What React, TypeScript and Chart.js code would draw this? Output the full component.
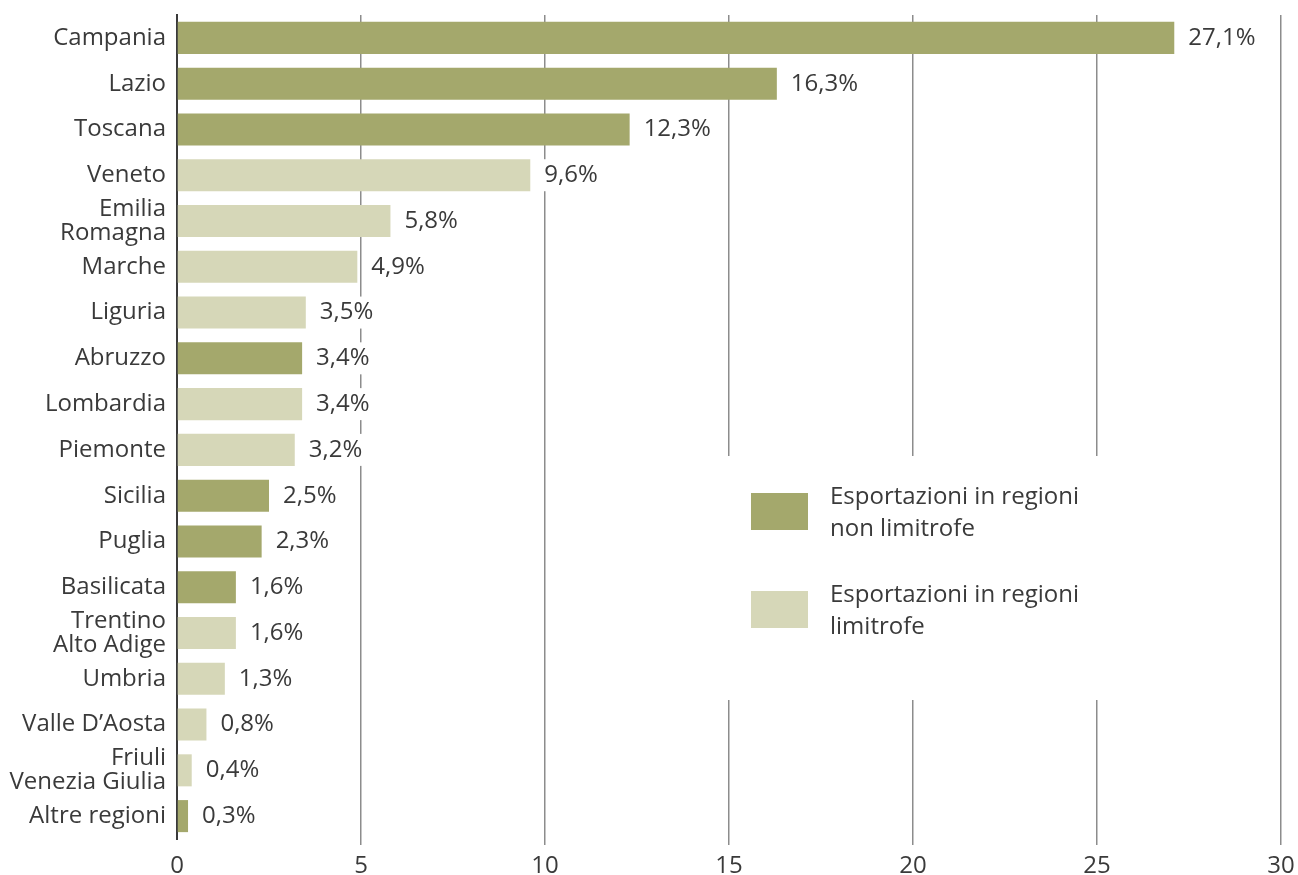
import React, { useEffect, useRef } from "react";
import { Chart, registerables } from "chart.js";

Chart.register(...registerables);

const categories: (string | string[])[] = [
  "Campania",
  "Lazio",
  "Toscana",
  "Veneto",
  ["Emilia", "Romagna"],
  "Marche",
  "Liguria",
  "Abruzzo",
  "Lombardia",
  "Piemonte",
  "Sicilia",
  "Puglia",
  "Basilicata",
  ["Trentino", "Alto Adige"],
  "Umbria",
  "Valle D’Aosta",
  ["Friuli", "Venezia Giulia"],
  "Altre regioni",
];

const nonLimitrofe: (number | null)[] = [
  27.1, 16.3, 12.3, null, null, null, null, 3.4, null, null, 2.5, 2.3, 1.6, null, null, null, null, 0.3,
];
const limitrofe: (number | null)[] = [
  null, null, null, 9.6, 5.8, 4.9, 3.5, null, 3.4, 3.2, null, null, null, 1.6, 1.3, 0.8, 0.4, null,
];

const legendLabels: string[][] = [
  ["Esportazioni in regioni", "non limitrofe"],
  ["Esportazioni in regioni", "limitrofe"],
];

const xMin = 0;
const xMax = 30;
const xStep = 5;

const DARK = "#a4a86c";
const LIGHT = "#d6d7b8";
const TEXT = "#3a3a3a";
const FONT = "'Open Sans', sans-serif";
const FS = 24;

const fmt = (v: number) => v.toFixed(1).replace(".", ",") + "%";

const valueLabels = {
  id: "valueLabels",
  afterDatasetsDraw(chart: any) {
    const ctx = chart.ctx;
    ctx.save();
    ctx.font = `${FS}px ${FONT}`;
    ctx.textBaseline = "middle";
    ctx.textAlign = "left";
    chart.data.datasets.forEach((ds: any, di: number) => {
      const meta = chart.getDatasetMeta(di);
      meta.data.forEach((bar: any, i: number) => {
        const v = ds.data[i];
        if (v === null || v === undefined) return;
        const text = fmt(v);
        const x = bar.x + 14;
        const y = bar.y;
        const w = ctx.measureText(text).width;
        ctx.fillStyle = "#ffffff";
        ctx.fillRect(x - 4, y - 16, w + 8, 32);
        ctx.fillStyle = TEXT;
        ctx.fillText(text, x, y);
      });
    });
    ctx.restore();
  },
};

const customLegend = {
  id: "customLegend",
  afterDatasetsDraw(chart: any) {
    const ctx = chart.ctx;
    ctx.save();
    ctx.fillStyle = "#ffffff";
    ctx.fillRect(700, 456, 420, 244);
    const colors = [DARK, LIGHT];
    const tops = [493, 591];
    legendLabels.forEach((lines, i) => {
      ctx.fillStyle = colors[i];
      ctx.fillRect(751, tops[i], 57, 37);
      ctx.fillStyle = TEXT;
      ctx.font = `${FS}px ${FONT}`;
      ctx.textBaseline = "middle";
      ctx.textAlign = "left";
      lines.forEach((ln, j) => {
        ctx.fillText(ln, 830, tops[i] + 4 + j * 32);
      });
    });
    ctx.restore();
  },
};

export default function App() {
  const ref = useRef<HTMLCanvasElement | null>(null);

  useEffect(() => {
    if (!ref.current) return;
    const chart = new Chart(ref.current, {
      type: "bar",
      data: {
        labels: categories as any,
        datasets: [
          {
            label: legendLabels[0].join(" "),
            data: nonLimitrofe as any,
            backgroundColor: DARK,
            barPercentage: 0.7,
            categoryPercentage: 1,
          },
          {
            label: legendLabels[1].join(" "),
            data: limitrofe as any,
            backgroundColor: LIGHT,
            barPercentage: 0.7,
            categoryPercentage: 1,
          },
        ],
      },
      options: {
        indexAxis: "y",
        responsive: false,
        animation: false,
        layout: { padding: { top: 15, right: 17, bottom: 0, left: 0 } },
        plugins: {
          legend: { display: false },
          tooltip: { enabled: false },
        },
        scales: {
          x: {
            stacked: true,
            min: xMin,
            max: xMax,
            afterFit: (scale: any) => {
              scale.height = 36;
              scale.paddingLeft = 0;
              scale.paddingRight = 0;
            },
            ticks: {
              stepSize: xStep,
              color: TEXT,
              font: { family: FONT, size: FS, lineHeight: 1 },
              padding: 9,
            },
            grid: {
              color: (c: any) => (c.tick && c.tick.value === 0 ? "rgba(0,0,0,0)" : "#8c8c8c"),
              lineWidth: 1.5,
              tickLength: 6,
              drawTicks: true,
            },
            border: { display: false },
          },
          y: {
            stacked: true,
            afterFit: (scale: any) => {
              scale.width = 177;
              scale.paddingTop = 0;
              scale.paddingBottom = 0;
            },
            ticks: {
              autoSkip: false,
              color: TEXT,
              font: { family: FONT, size: FS, lineHeight: 1 },
              padding: 11,
            },
            grid: { display: false, drawTicks: false },
            border: { display: true, color: "#3a3a3a", width: 2 },
          },
        },
      },
      plugins: [valueLabels, customLegend],
    } as any);
    return () => chart.destroy();
  }, []);

  return (
    <div style={{ position: "absolute", left: 0, top: 0, width: 1298, height: 875, background: "#fff" }}>
      <canvas ref={ref} width={1298} height={875} style={{ width: 1298, height: 875, display: "block" }} />
    </div>
  );
}
